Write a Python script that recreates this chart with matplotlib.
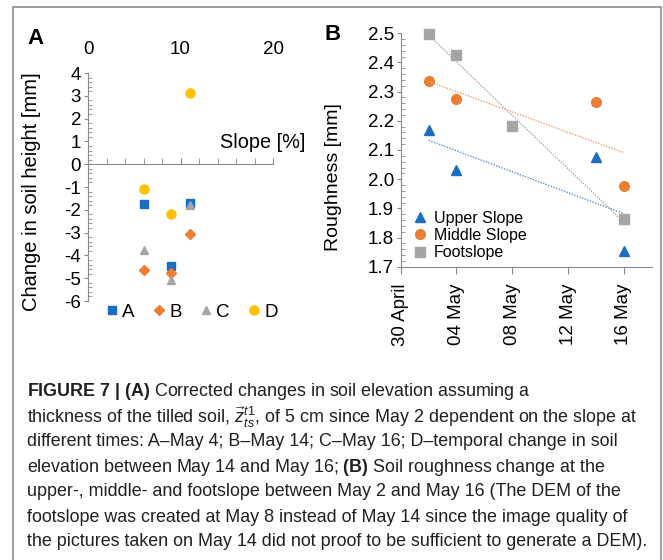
import matplotlib
matplotlib.use("Agg")
import matplotlib.pyplot as plt
import matplotlib.dates as mdates
from matplotlib.patches import Rectangle
from matplotlib.lines import Line2D
from matplotlib.ticker import MultipleLocator
import numpy as np
import pandas as pd

plt.rcParams['font.family'] = ['Liberation Sans', 'DejaVu Sans']
plt.rcParams['mathtext.fontset'] = 'custom'
plt.rcParams['mathtext.rm'] = 'Liberation Sans'
plt.rcParams['mathtext.bf'] = 'Liberation Sans:bold'
plt.rcParams['mathtext.it'] = 'Liberation Sans:italic'

# panel A: change in soil height vs slope
slope = [6, 9, 11]
series_a = {
    'A': [-1.75, -4.45, -1.72],
    'B': [-4.63, -4.78, -3.04],
    'C': [-3.78, -5.09, -1.77],
    'D': [-1.10, -2.19, 3.11],
}
a_styles = {'A': ('s', '#1A6FC4', 5.5), 'B': ('D', '#ED7D31', 5),
            'C': ('^', '#A5A5A5', 6), 'D': ('o', '#FFC000', 6.5)}

# panel B: roughness over time
upper_dates = ['2021-05-02', '2021-05-04', '2021-05-14', '2021-05-16']
upper_vals = [2.168, 2.030, 2.077, 1.755]
middle_dates = ['2021-05-02', '2021-05-04', '2021-05-14', '2021-05-16']
middle_vals = [2.336, 2.276, 2.264, 1.976]
foot_dates = ['2021-05-02', '2021-05-04', '2021-05-08', '2021-05-16']
foot_vals = [2.497, 2.424, 2.182, 1.865]

W, H = 663, 560
fig = plt.figure(figsize=(W / 100, H / 100), dpi=100)

def fx(px):
    return px / W

def fy(py):
    return 1 - py / H

# outer frame
fig.patches.append(Rectangle((fx(13), fy(600)), fx(648), (600 - 7) / H,
                             transform=fig.transFigure, fill=False,
                             edgecolor='#8c8c8c', lw=1.2))

# ---------- panel A ----------
axA = fig.add_axes([fx(88), fy(301), fx(273) - fx(88), fy(73) - fy(301)])
for name, vals in series_a.items():
    m, c, ms = a_styles[name]
    axA.plot(slope, vals, m, color=c, ms=ms, ls='none', clip_on=False)
axA.set_xlim(0, 20)
axA.set_ylim(-6, 4)
axA.spines['top'].set_visible(False)
axA.spines['right'].set_visible(False)
axA.spines['bottom'].set_position(('data', 0))
for s in ['left', 'bottom']:
    axA.spines[s].set_color('#8a8a8a')
axA.xaxis.set_major_locator(MultipleLocator(10))
axA.xaxis.set_minor_locator(MultipleLocator(2))
axA.yaxis.set_major_locator(MultipleLocator(1))
axA.yaxis.set_minor_locator(MultipleLocator(0.2))
axA.tick_params(axis='x', which='both', bottom=True, top=False, labelbottom=False,
                labeltop=True, direction='in', length=4, color='#8a8a8a',
                labelsize=13.5, pad=11)
axA.tick_params(axis='y', which='major', direction='out', length=3, color='#8a8a8a',
                labelsize=13.5, pad=2)
axA.tick_params(axis='y', which='minor', direction='in', length=3, color='#8a8a8a')
axA.set_yticks(range(-6, 5))
axA.set_yticklabels([str(v) for v in range(-6, 5)])
axA.text(14.3, 0.93, 'Slope [%]', fontsize=14.3, ha='left', va='center', clip_on=False)
fig.text(fx(32), fy(192), 'Change in soil height [mm]', rotation=90,
         ha='center', va='center', fontsize=14.5)
fig.text(fx(35), fy(38), 'A', fontsize=16, fontweight='bold', ha='center', va='center')

handles_a = [Line2D([], [], marker=a_styles[n][0], color=a_styles[n][1], ls='none',
                    ms=a_styles[n][2]) for n in series_a]
fig.legend(handles_a, list(series_a.keys()), ncol=4, frameon=False, fontsize=13.5,
           loc='center', bbox_to_anchor=(fx(192), fy(312)), handletextpad=0.25,
           columnspacing=1.0, handlelength=0.6)

# ---------- panel B ----------
axB = fig.add_axes([fx(400.7), fy(266.7), fx(651.7) - fx(400.7), fy(33.3) - fy(266.7)])
groups = [
    ('Upper Slope', upper_dates, upper_vals, '^', '#1A6FC4', 6.5, '#5B8FD0'),
    ('Middle Slope', middle_dates, middle_vals, 'o', '#ED7D31', 7, '#F2A070'),
    ('Footslope', foot_dates, foot_vals, 's', '#A5A5A5', 6.5, '#A8A8A8'),
]
t0 = pd.Timestamp('2021-04-30')
for label, d, v, m, c, ms, lc in groups:
    dts = pd.to_datetime(d)
    axB.plot(dts, v, m, color=c, ms=ms, ls='none', label=label, clip_on=False)
    days = np.array([(x - t0).days for x in dts])
    k, b = np.polyfit(days, v, 1)
    xs = np.array([days.min(), days.max()])
    axB.plot([t0 + pd.Timedelta(days=int(x)) for x in xs], k * xs + b,
             ls=(0, (1, 1)), color=lc, lw=1.0)
axB.set_xlim(pd.Timestamp('2021-04-30'), pd.Timestamp('2021-05-18'))
axB.set_ylim(1.7, 2.5)
axB.set_xticks(pd.date_range('2021-04-30', '2021-05-16', freq='4D'))
axB.xaxis.set_major_formatter(mdates.DateFormatter('%d %B'))
axB.yaxis.set_major_locator(MultipleLocator(0.1))
axB.yaxis.set_minor_locator(MultipleLocator(0.02))
axB.yaxis.set_major_formatter(plt.FormatStrFormatter('%.1f'))
axB.spines['top'].set_visible(False)
axB.spines['right'].set_visible(False)
for s in ['left', 'bottom']:
    axB.spines[s].set_color('#8a8a8a')
axB.tick_params(axis='x', which='major', direction='out', length=5, color='#8a8a8a',
                labelsize=13.5, labelrotation=90, pad=7)
axB.tick_params(axis='y', which='major', direction='out', length=3, color='#8a8a8a',
                labelsize=13.5, pad=2)
axB.tick_params(axis='y', which='minor', direction='in', length=3, color='#8a8a8a')
axB.legend(loc='lower left', bbox_to_anchor=(0.0, -0.014), frameon=False, fontsize=11.5,
           handletextpad=0.3, handlelength=1.2, labelspacing=0.15, borderaxespad=0.2)
fig.text(fx(334), fy(177), 'Roughness [mm]', rotation=90, ha='center', va='center',
         fontsize=14)
fig.text(fx(333), fy(35), 'B', fontsize=16, fontweight='bold', ha='center', va='center')

# ---------- caption ----------
caption = [
    r'$\mathbf{FIGURE\ 7\ |\ (A)}$ Corrected changes in soil elevation assuming a',
    r'thickness of the tilled soil, $\vec{z}_{ts}^{t1}$, of 5 cm since May 2 dependent on the slope at',
    'different times: A\u2013May 4; B\u2013May 14; C\u2013May 16; D\u2013temporal change in soil',
    r'elevation between May 14 and May 16; $\mathbf{(B)}$ Soil roughness change at the',
    'upper-, middle- and footslope between May 2 and May 16 (The DEM of the',
    'footslope was created at May 8 instead of May 14 since the image quality of',
    'the pictures taken on May 14 did not proof to be sufficient to generate a DEM).',
]
for i, line in enumerate(caption):
    fig.text(fx(27), fy(392 + i * 25.0), line, fontsize=12.9, ha='left', va='center',
             color='#231f20')

fig.savefig('out.png', dpi=100)
